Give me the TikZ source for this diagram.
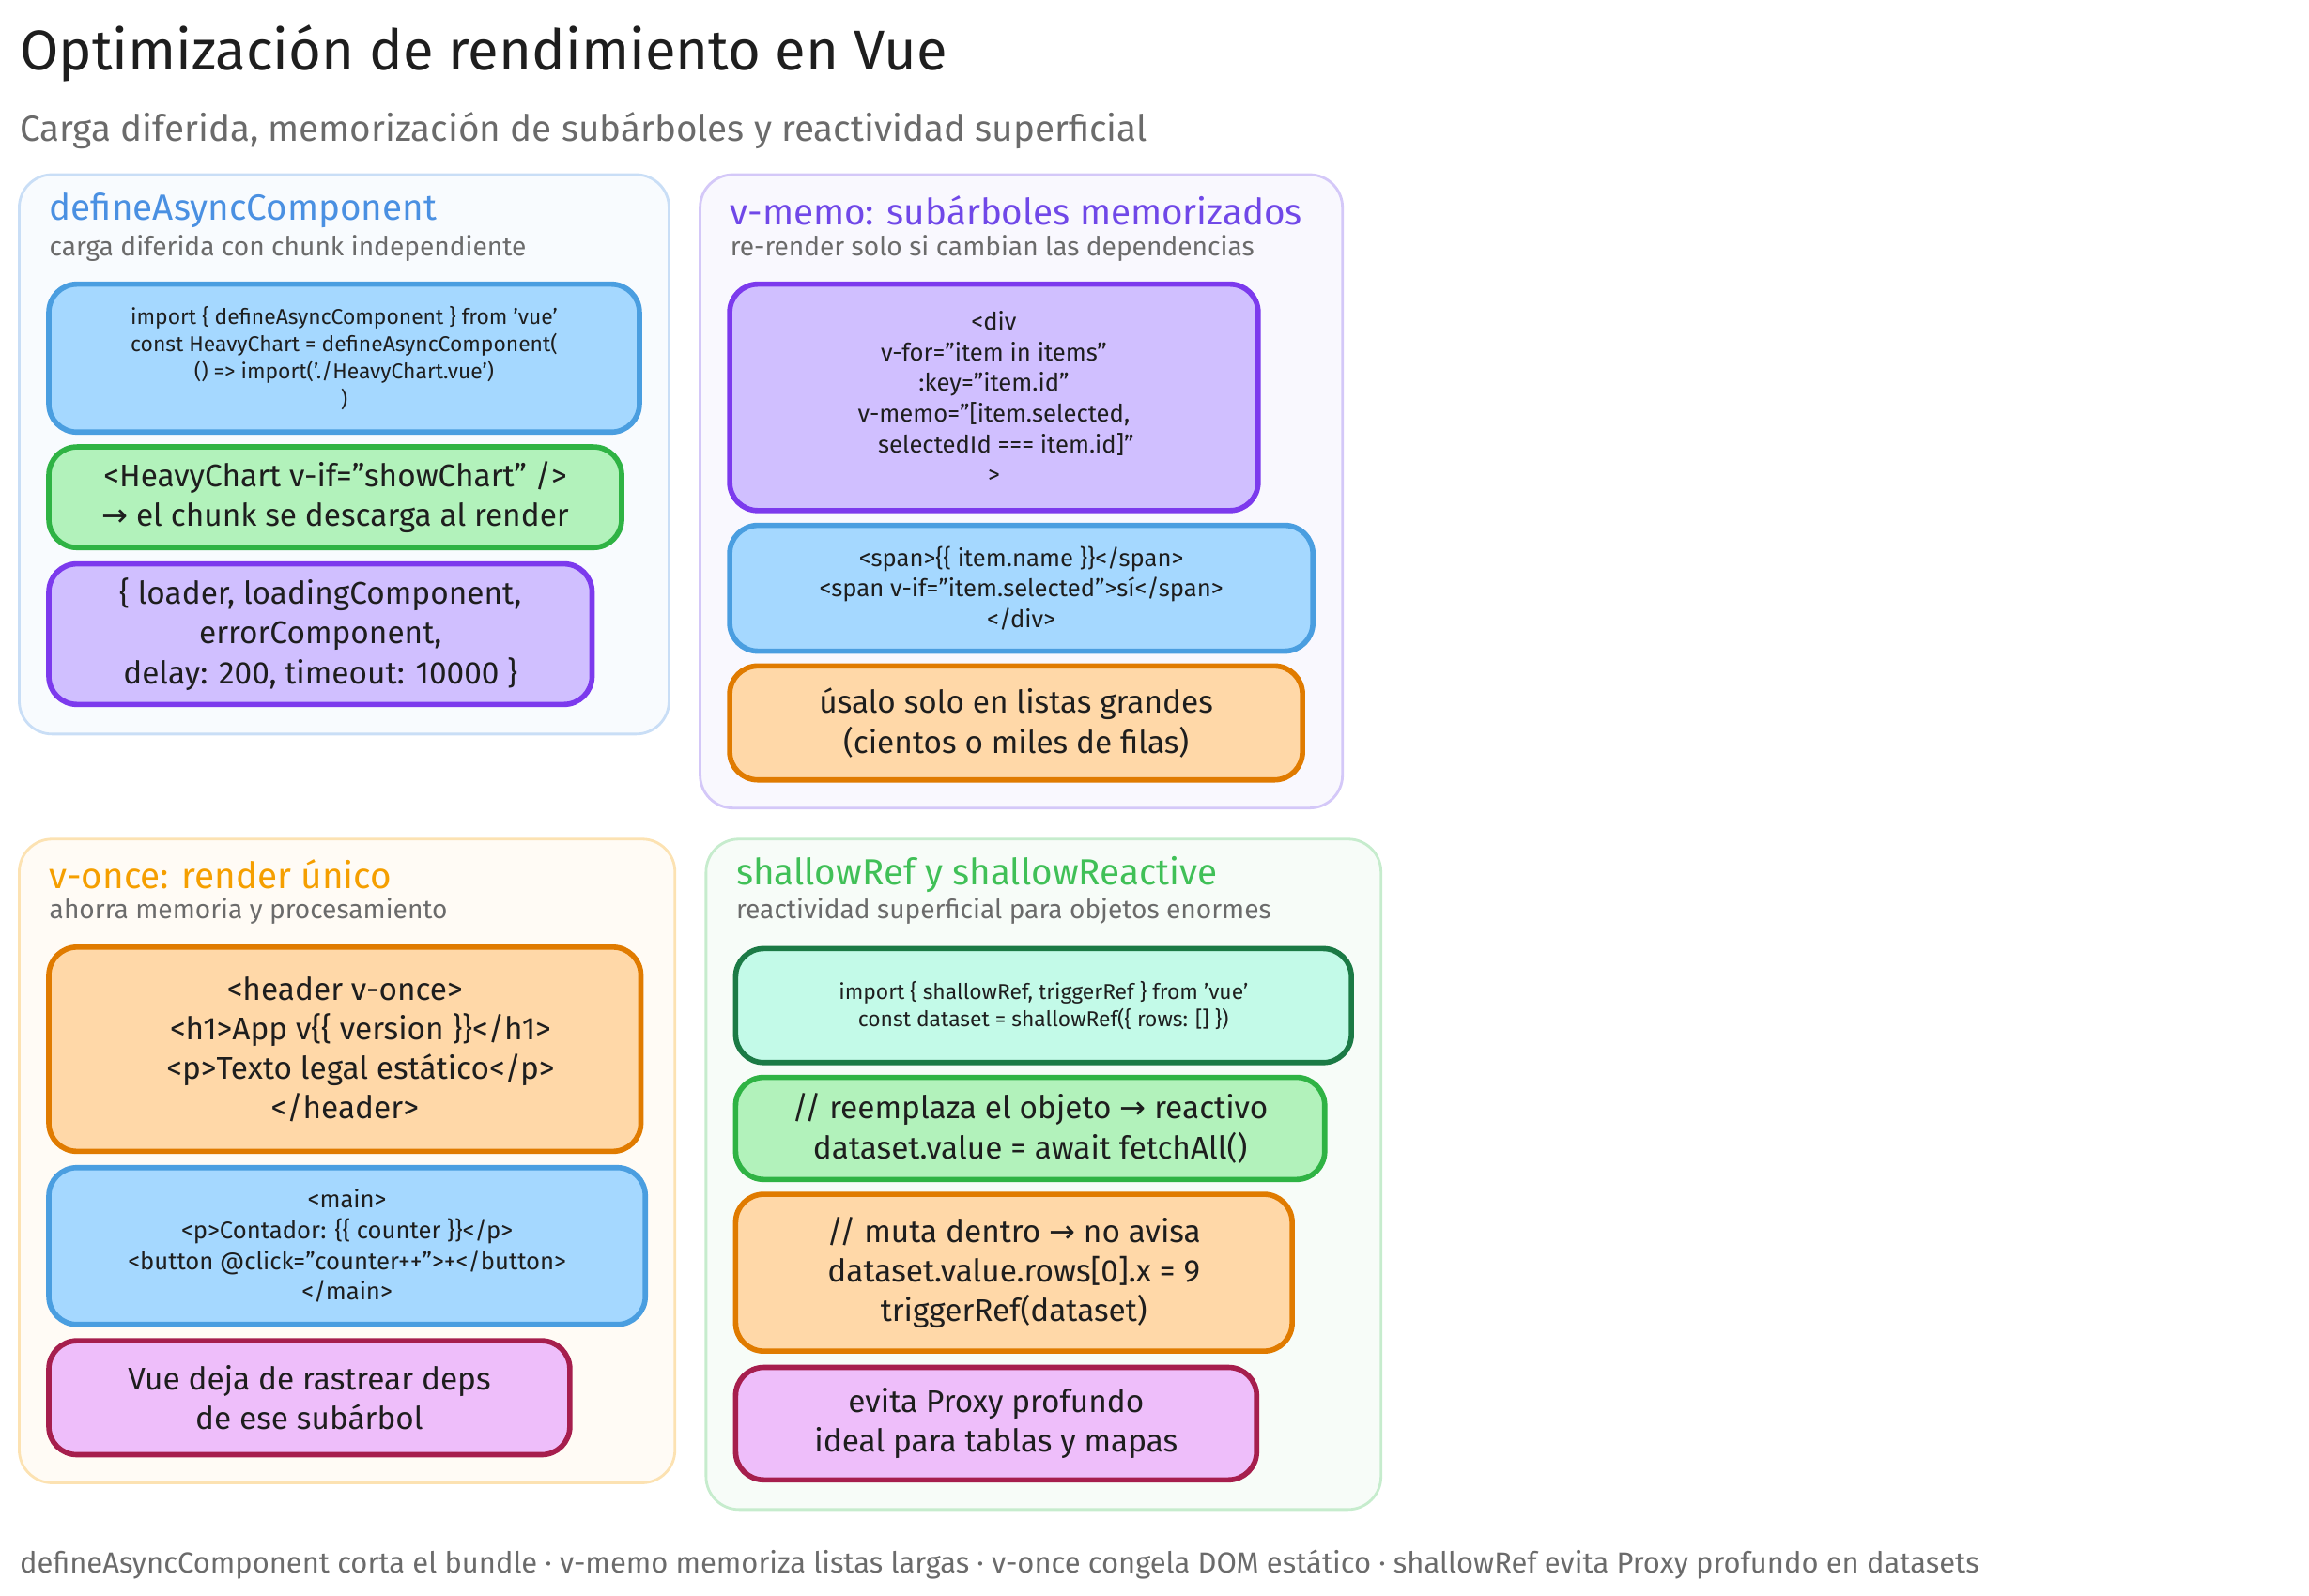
\documentclass[tikz,border=0pt]{standalone}
\usepackage{fontspec}
\setmainfont{Fira Sans}
\newfontfamily\sym{DejaVu Sans}
\usetikzlibrary{positioning}
\definecolor{inkC}{HTML}{1E1E1E}
\definecolor{greyC}{HTML}{6B6B6B}
\definecolor{blueT}{HTML}{4A90E2}
\definecolor{purpT}{HTML}{7048E8}
\definecolor{yellT}{HTML}{F59F00}
\definecolor{grenT}{HTML}{40C057}
\definecolor{blueF}{HTML}{A5D8FF}\definecolor{blueS}{HTML}{4A9EE0}
\definecolor{grenF}{HTML}{B2F2BB}\definecolor{grenS}{HTML}{2FB344}
\definecolor{purpF}{HTML}{D0BFFF}\definecolor{purpS}{HTML}{7C3AED}
\definecolor{orngF}{HTML}{FFD8A8}\definecolor{orngS}{HTML}{E07B00}
\definecolor{pinkF}{HTML}{EEBEFA}\definecolor{pinkS}{HTML}{A61E4D}
\definecolor{tealF}{HTML}{C3FAE8}\definecolor{tealS}{HTML}{1B7A45}
\def\u{0.01576cm}
\tikzset{
  panel/.style={draw=#1!30, fill=#1!4, line width=0.8pt, rounded corners=0.35cm},
  card/.style={draw=#1S, fill=#1F, line width=1.6pt, rounded corners=0.3cm,
    align=center, text=inkC, inner sep=2pt},
  sz/.style 2 args={minimum width={#1*\u}, minimum height={#2*\u}},
  ptitle/.style={anchor=west, font=\fontsize{11}{13}\selectfont, text=#1, inner sep=0pt},
  psub/.style={anchor=west, font=\fontsize{8}{10}\selectfont, text=greyC, inner sep=0pt},
  small/.style={font=\fontsize{6.5}{8.3}\selectfont},
  mid/.style={font=\fontsize{7.3}{9.3}\selectfont},
  big/.style={font=\fontsize{9.5}{12}\selectfont},
}
\begin{document}
\begin{tikzpicture}[x=\u, y=-\u]
\useasboundingbox (0,0) rectangle (1560,1078);
\node[anchor=west, font=\fontsize{17}{20}\selectfont, text=inkC, inner sep=0pt] (title) at (13,36) {Optimización de rendimiento en Vue};
\node[anchor=west, font=\fontsize{11}{14}\selectfont, text=greyC, inner sep=0pt] (subtitle) at (13,88) {Carga diferida, memorización de subárboles y reactividad superficial};

% panel 1
\draw[panel=blueT] (13,118) rectangle (452,496);
\node[ptitle=blueT] (t1) at (33,142) {defineAsyncComponent};
\node[psub] (s1) at (33,168) {carga diferida con chunk independiente};
\node[card=blue, small, sz={399}{100}] (a1) at (232.5,242) {import \{ defineAsyncComponent \} from 'vue'\\const HeavyChart = defineAsyncComponent(\\() => import('./HeavyChart.vue')\\)};
\node[card=gren, big, sz={387}{68}] (a2) at (226.5,336) {<HeavyChart v-if="showChart" />\\{\sym →} el chunk se descarga al render};
\node[card=purp, big, sz={367}{95}] (a3) at (216.5,428.5) {\{ loader, loadingComponent,\\errorComponent,\\delay: 200, timeout: 10000 \}};

% panel 2
\draw[panel=purpT] (473,118) rectangle (907,546);
\node[ptitle=purpT] (t2) at (493,142) {v-memo: subárboles memorizados};
\node[psub] (s2) at (493,168) {re-render solo si cambian las dependencias};
\node[card=purp, mid, sz={357}{153}] (m1) at (671.5,268.5) {<div\\v-for="item in items"\\:key="item.id"\\v-memo="[item.selected,\\\quad selectedId === item.id]"\\>};
\node[card=blue, mid, sz={394}{85}] (m2) at (690,397.5) {<span>\{\{ item.name \}\}</span>\\<span v-if="item.selected">sí</span>\\</div>};
\node[card=orng, big, sz={387}{77}] (m3) at (686.5,488.5) {úsalo solo en listas grandes\\(cientos o miles de filas)};

% panel 3
\draw[panel=yellT] (13,567) rectangle (456,1002);
\node[ptitle=yellT] (t3) at (33,591) {v-once: render único};
\node[psub] (s3) at (33,616) {ahorra memoria y procesamiento};
\node[card=orng, big, sz={400}{138}] (o1) at (233,709) {<header v-once>\\\quad<h1>App v\{\{ version \}\}</h1>\\\quad<p>Texto legal estático</p>\\</header>};
\node[card=blue, mid, sz={403}{106}] (o2) at (234.5,842) {<main>\\<p>Contador: \{\{ counter \}\}</p>\\<button @click="counter++">+</button>\\</main>};
\node[card=pink, big, sz={352}{77}] (o3) at (209,944.5) {Vue deja de rastrear deps\\de ese subárbol};

% panel 4
\draw[panel=grenT] (477,567) rectangle (933,1020);
\node[ptitle=grenT] (t4) at (497,591) {shallowRef y shallowReactive};
\node[psub] (s4) at (497,616) {reactividad superficial para objetos enormes};
\node[card=teal, small, sz={416}{77}] (r1) at (705,679.5) {import \{ shallowRef, triggerRef \} from 'vue'\\const dataset = shallowRef(\{ rows: [] \})};
\node[card=gren, big, sz={398}{69}] (r2) at (696,762.5) {// reemplaza el objeto {\sym →} reactivo\\dataset.value = await fetchAll()};
\node[card=orng, big, sz={376}{106}] (r3) at (685,860) {// muta dentro {\sym →} no avisa\\dataset.value.rows[0].x = 9\\triggerRef(dataset)};
\node[card=pink, big, sz={352}{76}] (r4) at (673,962) {evita Proxy profundo\\ideal para tablas y mapas};

\node[anchor=west, font=\fontsize{8.8}{11}\selectfont, text=greyC, inner sep=0pt] (foot) at (13,1057) {defineAsyncComponent corta el bundle · v-memo memoriza listas largas · v-once congela DOM estático · shallowRef evita Proxy profundo en datasets};
\end{tikzpicture}
\end{document}
